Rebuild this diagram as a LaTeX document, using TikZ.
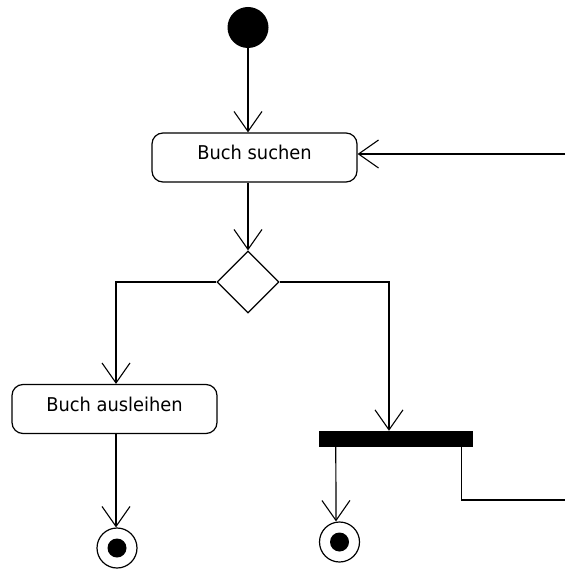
\documentclass[tikz,border=0pt]{standalone}
\usepackage{fontspec}
\setmainfont[FakeStretch=0.94]{DejaVu Sans}
\usetikzlibrary{arrows.meta,shapes.geometric}
\begin{document}
\begin{tikzpicture}[x=1pt,y=-1pt,
  lw/.style={line width=1.2pt},
  arr/.style={lw,-{Straight Barb[length=20pt,width=28pt,line width=1.1pt]}},
  action/.style={draw,lw,rounded corners=11pt,minimum width=205pt,minimum height=49pt,
    inner sep=0pt,font=\fontsize{19}{19}\selectfont,text height=12pt,text depth=7pt},
  startnode/.style={circle,fill=black,minimum size=41pt,inner sep=0pt},
  decision/.style={diamond,draw,lw,fill=white,minimum width=62pt,minimum height=62pt,inner sep=0pt},
  forkbar/.style={rectangle,fill=black,minimum width=154pt,minimum height=16pt,inner sep=0pt},
  endnode/.style={circle,draw,lw,fill=white,minimum size=40pt,inner sep=0pt,
    path picture={\fill[black] (path picture bounding box.center) circle (9.5pt);}}
]
\useasboundingbox (0,0) rectangle (565,569);

\node[startnode] (start) at (248,27.5) {};
\node[action] (search) at (254.5,157.5) {Buch suchen};
\node[decision] (dec) at (248,282) {};
\node[action] (lend) at (114.5,409) {Buch ausleihen};
\node[forkbar] (fork) at (396,439) {};
\node[endnode] (end1) at (117,548) {};
\node[endnode] (end2) at (339.5,542) {};
\coordinate (exitA) at (565,500);
\coordinate (exitB) at (565,154);

\draw[arr] (start) -- (start |- search.north);
\draw[arr] (dec.north |- search.south) -- (dec.north);
\draw[arr] (dec.west) -| ([xshift=1.5pt]lend.north);
\draw[arr] (dec.east) -| ([xshift=-7pt]fork.north);
\draw[arr] ([xshift=1.5pt]lend.south) -- ([xshift=-1pt]end1.north);
\draw[arr] ([xshift=17pt]fork.south west) -- ([xshift=-3.5pt]end2.north);
\draw[lw] ([xshift=-12pt]fork.south east) |- (exitA);
\draw[arr] (exitB) -- (exitB -| search.east);
\end{tikzpicture}
\end{document}
